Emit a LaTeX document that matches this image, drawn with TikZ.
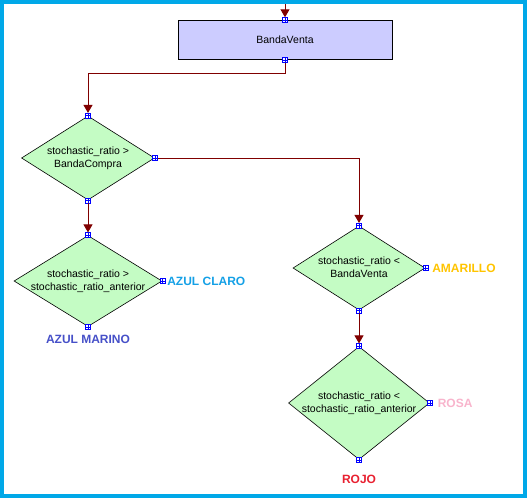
\documentclass[tikz,border=0pt]{standalone}
\usepackage{fontspec}
\setmainfont{Liberation Sans}
\usepackage{xcolor}
\usetikzlibrary{shapes.geometric, positioning, arrows.meta}

\definecolor{framecyan}{RGB}{0,168,232}
\definecolor{boxblue}{RGB}{204,204,255}
\definecolor{condgreen}{RGB}{196,252,196}
\definecolor{flowred}{RGB}{128,0,0}
\definecolor{azulclaro}{RGB}{20,160,230}
\definecolor{azulmarino}{RGB}{70,80,200}
\definecolor{amarillo}{RGB}{255,196,0}
\definecolor{rosa}{RGB}{248,180,204}
\definecolor{rojo}{RGB}{232,32,48}

\newcommand{\condtext}[2]{\makebox[0pt]{\begin{tabular}{@{}c@{}}#1\\#2\end{tabular}}}

\tikzset{
    action/.style = {draw, line width=0.8pt, fill=boxblue, minimum width=214pt,
        minimum height=39pt, font=\fontsize{10.5}{13}\selectfont},
    decision/.style = {diamond, draw, line width=0.6pt, fill=condgreen,
        inner sep=0pt, font=\fontsize{10.5}{13}\selectfont},
    port/.style = {draw=blue, line width=0.6pt, fill=white, minimum size=5pt,
        inner sep=0pt, path picture={\draw[blue, line width=0.5pt]
        (path picture bounding box.north) -- (path picture bounding box.south)
        (path picture bounding box.west) -- (path picture bounding box.east);}},
    flow/.style = {draw=flowred, line width=1pt,
        -{Triangle[width=9pt,length=8pt]}},
    outcome/.style = {inner sep=0pt, font=\fontsize{12}{14}\selectfont\bfseries}
}

\begin{document}
\begin{tikzpicture} [x=1pt, y=-1pt, node distance = 2cm]

        \useasboundingbox (0,0) rectangle (527,498);
        \draw [framecyan, line width=4pt] (2,2) rectangle (525,496);

        \node (vb) [action] at (285,40) {BandaVenta};
        \node (c1) [decision, minimum width=133pt, minimum height=84pt, on grid,
        below left = 118pt and 197pt of vb] {\condtext{stochastic\_ratio >}{BandaCompra}};
        \node (c2) [decision, minimum width=148pt, minimum height=91pt, on grid,
        below = 123pt of c1] {\condtext{stochastic\_ratio >}{stochastic\_ratio\_anterior}};
        \node (c3) [decision, minimum width=132pt, minimum height=84pt, on grid,
        below right = 110pt and 271pt of c1] {\condtext{stochastic\_ratio <}{BandaVenta}};
        \node (c4) [decision, minimum width=141pt, minimum height=113pt, on grid,
        below = 135pt of c3] {\condtext{stochastic\_ratio <}{stochastic\_ratio\_anterior}};

        % ports
        \node (pvbn) [port] at (vb.north) {}; \node (pvbs) [port] at (vb.south) {};
        \node (p1n) [port] at (c1.north) {}; \node (p1e) [port] at (c1.east) {};
        \node (p1s) [port] at (c1.south) {};
        \node (p2n) [port] at (c2.north) {}; \node (p2e) [port] at (c2.east) {};
        \node (p2s) [port] at (c2.south) {};
        \node (p3n) [port] at (c3.north) {}; \node (p3e) [port] at (c3.east) {};
        \node (p3s) [port] at (c3.south) {};
        \node (p4n) [port] at (c4.north) {}; \node (p4e) [port] at (c4.east) {};
        \node (p4s) [port] at (c4.south) {};

        \node (azulc) [outcome, text=azulclaro, right = 2pt of p2e] {AZUL CLARO};
        \node (azulm) [outcome, text=azulmarino, below = 5pt of p2s] {AZUL MARINO};
        \node (amar) [outcome, text=amarillo, right = 4pt of p3e] {AMARILLO};
        \node (rosa) [outcome, text=rosa, right = 5pt of p4e] {ROSA};
        \node (rojo) [outcome, text=rojo, below = 12pt of p4s] {ROJO};

        \coordinate (entry) at (285,4);

        \draw [flow] (entry) -- (pvbn);
        \draw [flow] (pvbs) -- ++(0,14) -| (p1n);
        \draw [flow] (p1e) -| (p3n);
        \draw [flow] (p1s) -- (p2n);
        \draw [flow] (p3s) -- (p4n);

\end{tikzpicture}
\end{document}
